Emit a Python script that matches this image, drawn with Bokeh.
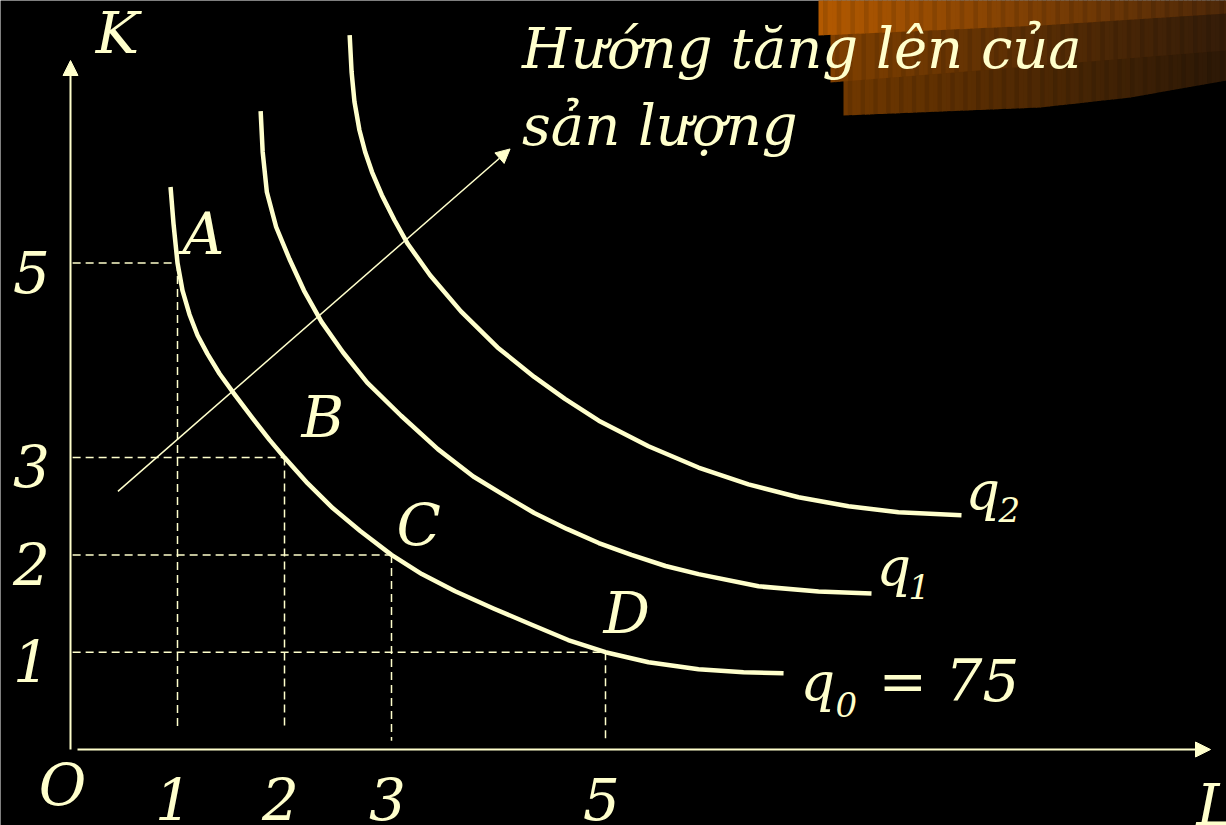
import numpy as np
from bokeh.plotting import figure
from bokeh.models import Range1d, Arrow, NormalHead
from bokeh.core.properties import value
from bokeh.embed import file_html
from bokeh.resources import INLINE

# ---------------------------------------------------------------- data
# isoquant q0 (passes through A, B, C, D)
q0_L = [0.935, 0.963, 1.000, 1.047, 1.112, 1.187, 1.280, 1.393, 1.533, 1.701,
        1.860, 2.000, 2.217, 2.453, 2.708, 3.000, 3.283, 3.595, 3.953, 4.311,
        4.651, 5.000, 5.402, 5.869, 6.290, 6.664]
q0_K = [5.781, 5.401, 5.000, 4.715, 4.471, 4.258, 4.066, 3.862, 3.650, 3.406,
        3.182, 3.000, 2.735, 2.479, 2.245, 2.000, 1.803, 1.626, 1.449, 1.282,
        1.125, 1.000, 0.897, 0.825, 0.794, 0.784]

# isoquant q1
q1_L = [1.777, 1.796, 1.835, 1.922, 2.046, 2.182, 2.346, 2.546, 2.773, 3.090,
        3.433, 3.765, 4.036, 4.334, 4.639, 4.937, 5.243, 5.561, 5.869, 6.430,
        6.991, 7.486]
q1_K = [6.562, 6.141, 5.730, 5.370, 5.041, 4.717, 4.395, 4.083, 3.771, 3.430,
        3.087, 2.806, 2.624, 2.431, 2.267, 2.122, 2.000, 1.886, 1.802, 1.677,
        1.625, 1.604]

# isoquant q2
q2_L = [2.609, 2.627, 2.654, 2.700, 2.754, 2.818, 2.909, 3.027, 3.153, 3.361,
        3.649, 3.991, 4.334, 4.621, 4.937, 5.402, 5.869, 6.336, 6.804, 7.271,
        7.738, 8.327]
q2_K = [7.343, 6.963, 6.655, 6.367, 6.141, 5.935, 5.699, 5.442, 5.195, 4.874,
        4.503, 4.132, 3.829, 3.604, 3.380, 3.117, 2.898, 2.725, 2.592, 2.500,
        2.439, 2.408]

# input combinations on q0
point_names = ["A", "B", "C", "D"]
point_L = [1, 2, 3, 5]
point_K = [5, 3, 2, 1]

# tick labels
L_ticks = [1, 2, 3, 5]
K_ticks = [5, 3, 2, 1]

# output levels
q0_value = 75
curve_subs = ["0", "1", "2"]

# direction of rising output
dir_L = [0.443, 4.108]
dir_K = [2.653, 6.172]
dir_text = ["Hướng tăng lên của", "sản lượng"]

# ---------------------------------------------------------------- layout
W, H = 1226, 825
X0, UX = 70.0, 107.0      # pixel column of L = 0, pixels per unit of L
Y0, UY = 749.0, 97.3      # pixel row of K = 0, pixels per unit of K


def L_of(px):
    return (px - X0) / UX


def K_of(py):
    return (Y0 - py) / UY


INK = "#FFFFCC"
FONT = value("DejaVu Serif")
BIG = 58
MID = 54
SMALL = 34
CAPTION = 56

p = figure(width=W, height=H,
           x_range=Range1d(L_of(0), L_of(W)),
           y_range=Range1d(K_of(H), K_of(0)),
           x_axis_location=None, y_axis_location=None,
           output_backend="svg", toolbar_location=None,
           min_border=0, background_fill_color="black",
           border_fill_color="black", outline_line_color=None)
p.grid.visible = False


# ---------------------------------------------------------------- banner
def band(x_left, top_edge, bot_edge, c_left, c_right, n=90):
    xs_px = np.linspace(x_left, W + 2, n + 1)
    tx, ty = zip(*top_edge)
    bx, by = zip(*bot_edge)
    xs, ys, cols = [], [], []
    for i in range(n):
        a, b = xs_px[i], xs_px[i + 1] + 0.8
        ta, tb = np.interp(a, tx, ty), np.interp(b, tx, ty)
        ba, bb = np.interp(a, bx, by), np.interp(b, bx, by)
        xs.append([L_of(a), L_of(b), L_of(b), L_of(a)])
        ys.append([K_of(ta), K_of(tb), K_of(bb), K_of(ba)])
        t = i / max(n - 1, 1)
        shade = 0.9 if i % 3 == 1 else 1.0     # faint vertical ribbing
        rgb = [int(round((c_left[k] + (c_right[k] - c_left[k]) * t) * shade))
               for k in range(3)]
        cols.append("#%02x%02x%02x" % tuple(rgb))
    p.patches(xs, ys, fill_color=cols, line_color=None)


band(843, [(843, 60), (1226, 30)], [(843, 115), (1040, 107), (1130, 97), (1226, 80)],
     (112, 56, 0), (44, 24, 6))
band(830, [(830, 20), (1226, 5)], [(830, 82), (1040, 65), (1226, 50)],
     (128, 64, 0), (52, 28, 8))
band(818, [(818, -5), (1226, -5)], [(818, 35), (1040, 25), (1226, 13)],
     (178, 89, 0), (78, 40, 8))

# ---------------------------------------------------------------- guides
drop_to = [0.2, 0.2, 0.09, 0.09]
p.segment(x0=[0.02] * 4, y0=point_K, x1=point_L, y1=point_K,
          line_color=INK, line_width=1.5, line_dash="8 5")
p.segment(x0=point_L, y0=point_K, x1=point_L, y1=drop_to,
          line_color=INK, line_width=1.5, line_dash="8 5")

# axes with arrow heads
p.add_layout(Arrow(end=NormalHead(size=15, fill_color=INK, line_color=INK),
                   x_start=0, y_start=0, x_end=0, y_end=K_of(60),
                   line_color=INK, line_width=2))
p.add_layout(Arrow(end=NormalHead(size=15, fill_color=INK, line_color=INK),
                   x_start=L_of(77), y_start=0, x_end=L_of(1210), y_end=0,
                   line_color=INK, line_width=2))

# isoquants
for xs, ys in ((q0_L, q0_K), (q1_L, q1_K), (q2_L, q2_K)):
    p.line(xs, ys, line_color=INK, line_width=4.5, line_join="round")

# direction arrow
p.add_layout(Arrow(end=NormalHead(size=14, fill_color=INK, line_color=INK),
                   x_start=dir_L[0], y_start=dir_K[0],
                   x_end=dir_L[1], y_end=dir_K[1],
                   line_color=INK, line_width=1.5))


# ---------------------------------------------------------------- texts
def label(x, y, text, size=BIG, dx=0, dy=0, align="left"):
    # dy is the wanted baseline shift in pixels; the renderer sets glyphs
    # about 0.39 em lower than the anchor, so lift them by that much
    lift = 0.39 * size
    if isinstance(dy, list):
        dy = [d - lift for d in dy]
    else:
        dy = dy - lift
    p.text(x=x, y=y, text=text, x_offset=dx, y_offset=dy,
           text_font=FONT, text_font_style="italic",
           text_font_size=f"{size}px", text_color=INK,
           text_align=align, text_baseline="alphabetic")


# tick labels
label(L_ticks, [0] * 4, [str(v) for v in L_ticks], dx=-4, dy=72, align="center")
label([0] * 4, K_ticks, [str(v) for v in K_ticks], dx=-39, dy=31, align="center")
label([0], [0], ["O"], dx=-8, dy=58, align="center")
label([0], [K_of(60)], ["K"], dx=47, dy=-5, align="center")
label([L_of(1210)], [0], ["L"], dx=-14, dy=78)

# point labels
label(point_L, point_K, point_names, dx=[5, 17, 5, -2], dy=[-6, -18, -7, -17])

# isoquant labels
ends = [(q0_L[-1], q0_K[-1]), (q1_L[-1], q1_K[-1]), (q2_L[-1], q2_K[-1])]
label([ends[0][0]], [ends[0][1]], ["q"], size=MID, dx=17, dy=30)
label([ends[0][0]], [ends[0][1]], [curve_subs[0]], size=SMALL, dx=52, dy=45)
label([ends[0][0]], [ends[0][1]], [f"= {q0_value}"], dx=95, dy=30)
label([ends[1][0]], [ends[1][1]], ["q"], size=MID, dx=5, dy=-5)
label([ends[1][0]], [ends[1][1]], [curve_subs[1]], size=SMALL, dx=37, dy=6)
label([ends[2][0]], [ends[2][1]], ["q"], size=MID, dx=4, dy=-3)
label([ends[2][0]], [ends[2][1]], [curve_subs[2]], size=SMALL, dx=37, dy=8)

# direction caption
label([dir_L[1]] * 2, [dir_K[1]] * 2, dir_text, size=CAPTION, dx=12, dy=[-79, -2])

open("out.html", "w").write(file_html(p, INLINE))
